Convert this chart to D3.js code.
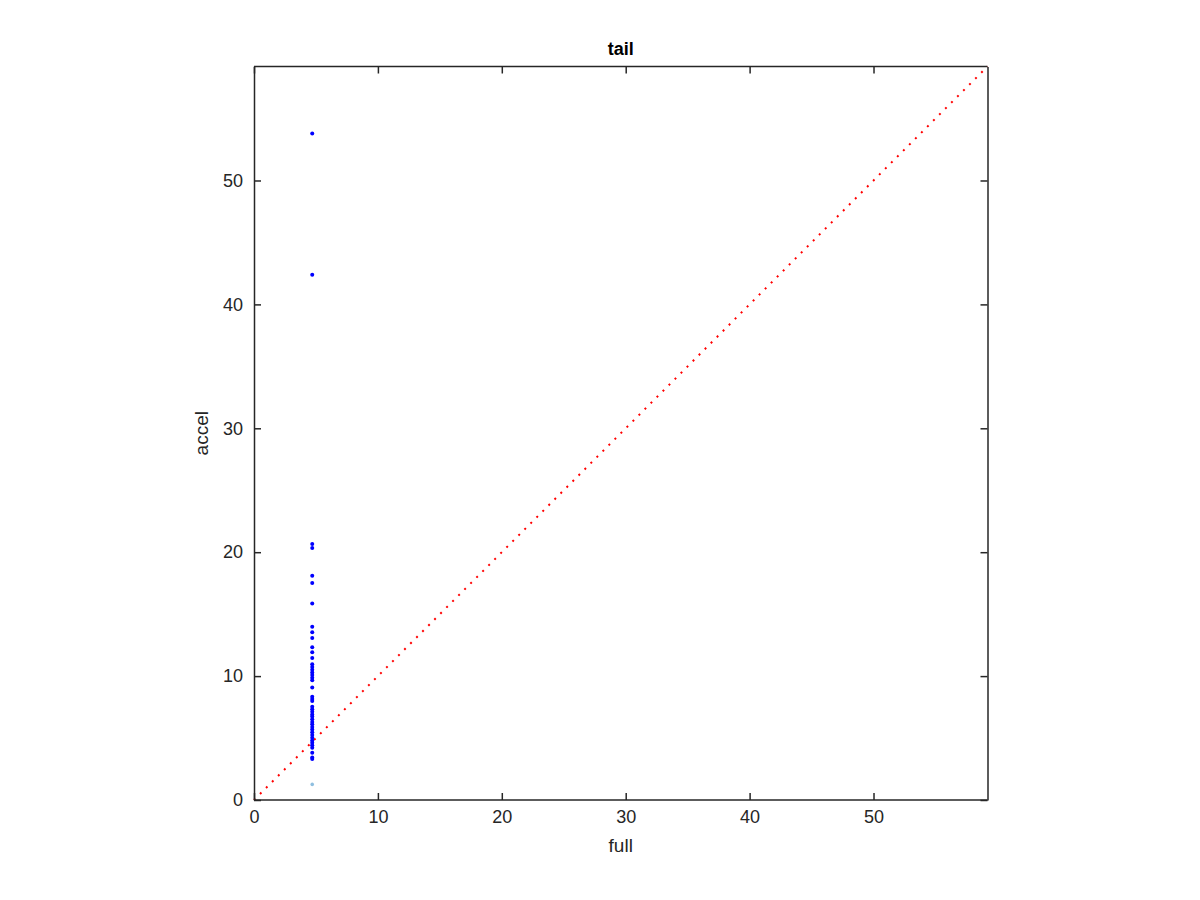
<!DOCTYPE html>
<html><head><meta charset="utf-8">
<script src="https://cdn.jsdelivr.net/npm/d3@7"></script>
<style>body{margin:0;background:#fff;} text{font-family:"Liberation Sans",Arial,Helvetica,sans-serif;}</style>
</head><body>
<script>
const fullX = 4.7;
const accelValues = [53.8, 42.4, 20.66, 20.34, 18.1, 17.51, 15.85, 13.99, 13.53, 13.07, 12.32, 11.92, 11.46, 10.95, 10.73, 10.52, 10.30, 10.09, 9.87, 9.66, 9.07, 8.34, 8.15, 7.99, 7.53, 7.32, 7.13, 6.91, 6.73, 6.51, 6.30, 6.11, 5.89, 5.68, 5.46, 5.25, 5.03, 4.81, 4.63, 4.41, 4.22, 3.82, 3.44, 3.31];
const lightValues = [1.26];
const ticks = [0, 10, 20, 30, 40, 50];
const axisMax = 59.2;

const W = 1200, H = 900;
const svg = d3.select("body").append("svg").attr("width", W).attr("height", H);
const L = 254, R = 987.5, T = 66.5, B = 800;
const x = d3.scaleLinear().domain([0, axisMax]).range([L, R]);
const y = d3.scaleLinear().domain([0, axisMax]).range([B, T]);
const col = "#262626";

// diagonal dotted line
svg.append("line").attr("x1", x(0)).attr("y1", y(0)).attr("x2", x(axisMax)).attr("y2", y(axisMax))
  .attr("stroke", "#ff0000").attr("stroke-width", 2).attr("stroke-dasharray", "2,6.5");

// points
svg.append("g").selectAll("circle").data(lightValues).join("circle")
  .attr("cx", x(fullX)).attr("cy", d => y(d)).attr("r", 1.8).attr("fill", "#8fbfe0");
svg.append("g").selectAll("circle").data(accelValues).join("circle")
  .attr("cx", x(fullX)).attr("cy", d => y(d)).attr("r", 2).attr("fill", "#0000ff");

// axes
const tl = 7;
const xb = svg.append("g").attr("transform", `translate(0,${B})`)
  .call(d3.axisBottom(x).tickValues(ticks).tickSizeInner(-tl).tickSizeOuter(0).tickPadding(12));
const xt = svg.append("g").attr("transform", `translate(0,${T})`)
  .call(d3.axisTop(x).tickValues(ticks).tickSizeInner(-tl).tickSizeOuter(0).tickFormat(""));
const yl = svg.append("g").attr("transform", `translate(${L},0)`)
  .call(d3.axisLeft(y).tickValues(ticks).tickSizeInner(-tl).tickSizeOuter(0).tickPadding(11));
const yr = svg.append("g").attr("transform", `translate(${R},0)`)
  .call(d3.axisRight(y).tickValues(ticks).tickSizeInner(-tl).tickSizeOuter(0).tickFormat(""));
[xb, xt, yl, yr].forEach(g => {
  g.selectAll("path").attr("stroke", col).attr("stroke-width", 1.5);
  g.selectAll("line").attr("stroke", col).attr("stroke-width", 1.5);
  g.selectAll("text").attr("fill", col).style("font-size", "18px");
});
xb.selectAll("text").attr("dy", "0.6em");
xb.select(".domain").attr("d", `M${L},0H${R}`);
xt.select(".domain").attr("d", `M${L},0H${R}`);

// title & labels
svg.append("text").attr("x", (L + R) / 2).attr("y", 55).attr("text-anchor", "middle")
  .style("font-size", "18px").style("font-weight", "bold").attr("fill", "#000").text("tail");
svg.append("text").attr("x", (L + R) / 2).attr("y", 852).attr("text-anchor", "middle")
  .style("font-size", "19px").attr("fill", col).text("full");
svg.append("text").attr("transform", `translate(208,${(T + B) / 2}) rotate(-90)`).attr("text-anchor", "middle")
  .style("font-size", "19px").attr("fill", col).text("accel");
</script>
</body></html>
